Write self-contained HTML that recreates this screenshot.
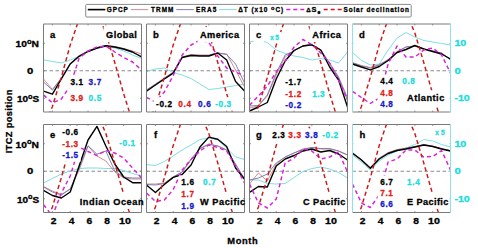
<!DOCTYPE html><html><head><meta charset="utf-8"><style>html,body{margin:0;padding:0;background:#fff;}svg{display:block;}text{font-family:"Liberation Sans",sans-serif;font-weight:bold;stroke-linejoin:round;}</style></head><body>
<svg width="478" height="248" viewBox="0 0 478 248">
<defs>
<clipPath id="cla"><rect x="43.50" y="24.00" width="98.00" height="88.00"/></clipPath>
<clipPath id="clb"><rect x="146.50" y="24.00" width="98.00" height="88.00"/></clipPath>
<clipPath id="clc"><rect x="249.50" y="24.00" width="98.00" height="88.00"/></clipPath>
<clipPath id="cld"><rect x="352.50" y="24.00" width="98.00" height="88.00"/></clipPath>
<clipPath id="cle"><rect x="43.50" y="124.50" width="98.00" height="88.00"/></clipPath>
<clipPath id="clf"><rect x="146.50" y="124.50" width="98.00" height="88.00"/></clipPath>
<clipPath id="clg"><rect x="249.50" y="124.50" width="98.00" height="88.00"/></clipPath>
<clipPath id="clh"><rect x="352.50" y="124.50" width="98.00" height="88.00"/></clipPath>
</defs>
<g clip-path="url(#cla)" fill="none" stroke-linejoin="round">
<line x1="43.50" y1="70.75" x2="141.50" y2="70.75" stroke="#8a8a8a" stroke-width="1" stroke-dasharray="3.5,2.5"/>
<polyline points="43.50,59.90 52.41,61.50 61.32,62.90 70.23,60.00 79.14,56.50 88.05,51.50 96.95,48.50 105.86,46.50 114.77,48.00 123.68,51.00 132.59,55.00 141.50,58.50" stroke="#7fdde3" stroke-width="1"/>
<polyline points="43.50,79.00 52.41,89.50 61.32,78.00 70.23,63.50 79.14,55.50 88.05,51.00 96.95,47.50 105.86,45.50 114.77,46.50 123.68,48.50 132.59,51.00 141.50,54.00" stroke="#d08080" stroke-width="0.9"/>
<polyline points="43.50,82.00 52.41,90.00 61.32,78.50 70.23,63.50 79.14,56.00 88.05,51.00 96.95,48.00 105.86,46.00 114.77,47.00 123.68,49.50 132.59,52.50 141.50,56.00" stroke="#7474b0" stroke-width="0.9"/>
<polyline points="43.50,91.20 52.41,94.20 61.32,79.00 70.23,64.00 79.14,56.30 88.05,51.50 96.95,48.00 105.86,45.80 114.77,47.00 123.68,49.00 132.59,52.00 141.50,57.00" stroke="#000" stroke-width="1.4"/>
<polyline points="43.50,94.90 52.41,103.00 61.32,99.00 70.23,86.00 79.14,58.00 88.05,51.00 96.95,47.00 105.86,46.00 114.77,52.00 123.68,57.50 132.59,62.00 141.50,70.00" stroke="#d91fd9" stroke-width="1.45" stroke-dasharray="4,3"/>
<polyline points="43.50,128.50 52.41,106.50 61.32,77.35 70.23,44.90 79.14,19.05 88.05,6.67 96.95,12.17 105.86,33.08 114.77,62.50 123.68,93.85 132.59,122.18 141.50,134.55" stroke="#d01818" stroke-width="1.45" stroke-dasharray="4.2,2.9"/>
<rect x="47.40" y="26.40" width="10.28" height="15.67" fill="#fff"/>
<rect x="103.60" y="27.06" width="35.70" height="15.18" fill="#fff"/>
<rect x="67.90" y="74.76" width="17.70" height="13.53" fill="#fff"/>
<rect x="86.10" y="74.76" width="17.70" height="13.53" fill="#fff"/>
<rect x="67.90" y="91.36" width="17.70" height="13.53" fill="#fff"/>
<rect x="86.10" y="91.36" width="17.70" height="13.53" fill="#fff"/>
</g>
<line x1="43.50" y1="24.00" x2="141.50" y2="24.00" stroke="#7a7a7a" stroke-width="1"/>
<line x1="43.50" y1="112.00" x2="141.50" y2="112.00" stroke="#7a7a7a" stroke-width="1"/>
<line x1="43.50" y1="24.00" x2="43.50" y2="112.00" stroke="#7a7a7a" stroke-width="1"/>
<line x1="141.50" y1="24.00" x2="141.50" y2="112.00" stroke="#7a7a7a" stroke-width="1"/>
<line x1="52.41" y1="24.00" x2="52.41" y2="25.50" stroke="#7a7a7a" stroke-width="0.8"/>
<line x1="52.41" y1="112.00" x2="52.41" y2="110.50" stroke="#7a7a7a" stroke-width="0.8"/>
<line x1="70.23" y1="24.00" x2="70.23" y2="25.50" stroke="#7a7a7a" stroke-width="0.8"/>
<line x1="70.23" y1="112.00" x2="70.23" y2="110.50" stroke="#7a7a7a" stroke-width="0.8"/>
<line x1="88.05" y1="24.00" x2="88.05" y2="25.50" stroke="#7a7a7a" stroke-width="0.8"/>
<line x1="88.05" y1="112.00" x2="88.05" y2="110.50" stroke="#7a7a7a" stroke-width="0.8"/>
<line x1="105.86" y1="24.00" x2="105.86" y2="25.50" stroke="#7a7a7a" stroke-width="0.8"/>
<line x1="105.86" y1="112.00" x2="105.86" y2="110.50" stroke="#7a7a7a" stroke-width="0.8"/>
<line x1="123.68" y1="24.00" x2="123.68" y2="25.50" stroke="#7a7a7a" stroke-width="0.8"/>
<line x1="123.68" y1="112.00" x2="123.68" y2="110.50" stroke="#7a7a7a" stroke-width="0.8"/>
<line x1="43.50" y1="98.25" x2="45.00" y2="98.25" stroke="#7a7a7a" stroke-width="0.8"/>
<line x1="141.50" y1="98.25" x2="140.00" y2="98.25" stroke="#7a7a7a" stroke-width="0.8"/>
<line x1="43.50" y1="70.75" x2="45.00" y2="70.75" stroke="#7a7a7a" stroke-width="0.8"/>
<line x1="141.50" y1="70.75" x2="140.00" y2="70.75" stroke="#7a7a7a" stroke-width="0.8"/>
<line x1="43.50" y1="43.25" x2="45.00" y2="43.25" stroke="#7a7a7a" stroke-width="0.8"/>
<line x1="141.50" y1="43.25" x2="140.00" y2="43.25" stroke="#7a7a7a" stroke-width="0.8"/>
<g clip-path="url(#clb)" fill="none" stroke-linejoin="round">
<line x1="146.50" y1="70.75" x2="244.50" y2="70.75" stroke="#8a8a8a" stroke-width="1" stroke-dasharray="3.5,2.5"/>
<polyline points="146.50,71.50 155.41,69.00 164.32,68.00 173.23,72.50 182.14,75.00 191.05,78.50 199.95,84.00 208.86,89.50 217.77,88.50 226.68,87.00 235.59,85.50 244.50,84.00" stroke="#7fdde3" stroke-width="1"/>
<polyline points="146.50,90.00 155.41,84.00 164.32,78.00 173.23,72.00 182.14,57.00 191.05,54.50 199.95,55.00 208.86,55.00 217.77,53.00 226.68,54.00 235.59,70.00 244.50,87.00" stroke="#d08080" stroke-width="0.9"/>
<polyline points="146.50,90.00 155.41,84.50 164.32,78.50 173.23,72.50 182.14,57.00 191.05,55.00 199.95,55.50 208.86,55.50 217.77,53.00 226.68,54.50 235.59,64.00 244.50,83.00" stroke="#7474b0" stroke-width="0.9"/>
<polyline points="146.50,91.20 155.41,85.00 164.32,79.00 173.23,73.10 182.14,57.50 191.05,55.50 199.95,56.00 208.86,56.00 217.77,53.00 226.68,60.00 235.59,81.50 244.50,91.00" stroke="#000" stroke-width="1.4"/>
<polyline points="146.50,97.30 155.41,102.00 164.32,92.00 173.23,75.50 182.14,55.00 191.05,45.00 199.95,40.00 208.86,42.50 217.77,56.00 226.68,68.00 235.59,72.00 244.50,76.00" stroke="#d91fd9" stroke-width="1.45" stroke-dasharray="4,3"/>
<polyline points="146.50,128.50 155.41,106.50 164.32,77.35 173.23,44.90 182.14,19.05 191.05,6.67 199.95,12.17 208.86,33.08 217.77,62.50 226.68,93.85 235.59,122.18 244.50,134.55" stroke="#d01818" stroke-width="1.45" stroke-dasharray="4.2,2.9"/>
<rect x="150.60" y="26.70" width="10.80" height="15.67" fill="#fff"/>
<rect x="197.50" y="27.06" width="44.00" height="15.18" fill="#fff"/>
<rect x="153.60" y="97.16" width="20.90" height="13.53" fill="#fff"/>
<rect x="175.80" y="97.16" width="17.70" height="13.53" fill="#fff"/>
<rect x="195.50" y="97.16" width="17.70" height="13.53" fill="#fff"/>
<rect x="212.70" y="97.16" width="20.90" height="13.53" fill="#fff"/>
</g>
<line x1="146.50" y1="24.00" x2="244.50" y2="24.00" stroke="#7a7a7a" stroke-width="1"/>
<line x1="146.50" y1="112.00" x2="244.50" y2="112.00" stroke="#7a7a7a" stroke-width="1"/>
<line x1="146.50" y1="24.00" x2="146.50" y2="112.00" stroke="#7a7a7a" stroke-width="1"/>
<line x1="244.50" y1="24.00" x2="244.50" y2="112.00" stroke="#7a7a7a" stroke-width="1"/>
<line x1="155.41" y1="24.00" x2="155.41" y2="25.50" stroke="#7a7a7a" stroke-width="0.8"/>
<line x1="155.41" y1="112.00" x2="155.41" y2="110.50" stroke="#7a7a7a" stroke-width="0.8"/>
<line x1="173.23" y1="24.00" x2="173.23" y2="25.50" stroke="#7a7a7a" stroke-width="0.8"/>
<line x1="173.23" y1="112.00" x2="173.23" y2="110.50" stroke="#7a7a7a" stroke-width="0.8"/>
<line x1="191.05" y1="24.00" x2="191.05" y2="25.50" stroke="#7a7a7a" stroke-width="0.8"/>
<line x1="191.05" y1="112.00" x2="191.05" y2="110.50" stroke="#7a7a7a" stroke-width="0.8"/>
<line x1="208.86" y1="24.00" x2="208.86" y2="25.50" stroke="#7a7a7a" stroke-width="0.8"/>
<line x1="208.86" y1="112.00" x2="208.86" y2="110.50" stroke="#7a7a7a" stroke-width="0.8"/>
<line x1="226.68" y1="24.00" x2="226.68" y2="25.50" stroke="#7a7a7a" stroke-width="0.8"/>
<line x1="226.68" y1="112.00" x2="226.68" y2="110.50" stroke="#7a7a7a" stroke-width="0.8"/>
<line x1="146.50" y1="98.25" x2="148.00" y2="98.25" stroke="#7a7a7a" stroke-width="0.8"/>
<line x1="244.50" y1="98.25" x2="243.00" y2="98.25" stroke="#7a7a7a" stroke-width="0.8"/>
<line x1="146.50" y1="70.75" x2="148.00" y2="70.75" stroke="#7a7a7a" stroke-width="0.8"/>
<line x1="244.50" y1="70.75" x2="243.00" y2="70.75" stroke="#7a7a7a" stroke-width="0.8"/>
<line x1="146.50" y1="43.25" x2="148.00" y2="43.25" stroke="#7a7a7a" stroke-width="0.8"/>
<line x1="244.50" y1="43.25" x2="243.00" y2="43.25" stroke="#7a7a7a" stroke-width="0.8"/>
<g clip-path="url(#clc)" fill="none" stroke-linejoin="round">
<line x1="249.50" y1="70.75" x2="347.50" y2="70.75" stroke="#8a8a8a" stroke-width="1" stroke-dasharray="3.5,2.5"/>
<polyline points="249.50,42.00 258.41,40.00 267.32,42.50 276.23,50.00 285.14,53.50 294.05,56.00 302.95,57.50 311.86,60.00 320.77,58.50 329.68,60.00 338.59,63.00 347.50,52.00" stroke="#7fdde3" stroke-width="1"/>
<polyline points="249.50,108.00 258.41,106.00 267.32,96.00 276.23,75.00 285.14,57.00 294.05,50.50 302.95,45.50 311.86,44.50 320.77,50.00 329.68,64.00 338.59,78.00 347.50,100.00" stroke="#d08080" stroke-width="0.9"/>
<polyline points="249.50,106.00 258.41,105.50 267.32,95.00 276.23,73.00 285.14,55.00 294.05,51.00 302.95,46.00 311.86,45.00 320.77,50.00 329.68,63.00 338.59,77.00 347.50,98.00" stroke="#7474b0" stroke-width="0.9"/>
<polyline points="249.50,111.00 258.41,107.00 267.32,102.50 276.23,79.00 285.14,61.00 294.05,50.50 302.95,46.00 311.86,44.80 320.77,50.00 329.68,67.00 338.59,80.00 347.50,107.00" stroke="#000" stroke-width="1.4"/>
<polyline points="249.50,105.30 258.41,96.00 267.32,86.00 276.23,72.00 285.14,61.00 294.05,47.00 302.95,39.50 311.86,44.50 320.77,53.00 329.68,63.00 338.59,80.00 347.50,100.00" stroke="#d91fd9" stroke-width="1.45" stroke-dasharray="4,3"/>
<polyline points="249.50,128.50 258.41,106.50 267.32,77.35 276.23,44.90 285.14,19.05 294.05,6.67 302.95,12.17 311.86,33.08 320.77,62.50 329.68,93.85 338.59,122.18 347.50,134.55" stroke="#d01818" stroke-width="1.45" stroke-dasharray="4.2,2.9"/>
<rect x="253.60" y="26.70" width="10.28" height="15.67" fill="#fff"/>
<rect x="309.80" y="26.86" width="33.60" height="15.18" fill="#fff"/>
<rect x="282.80" y="75.26" width="20.90" height="13.53" fill="#fff"/>
<rect x="282.80" y="87.06" width="20.90" height="13.53" fill="#fff"/>
<rect x="282.80" y="98.06" width="20.90" height="13.53" fill="#fff"/>
<rect x="309.70" y="87.06" width="17.40" height="13.53" fill="#fff"/>
<rect x="267.70" y="31.92" width="13.60" height="10.56" fill="#fff"/>
</g>
<line x1="249.50" y1="24.00" x2="347.50" y2="24.00" stroke="#7a7a7a" stroke-width="1"/>
<line x1="249.50" y1="112.00" x2="347.50" y2="112.00" stroke="#7a7a7a" stroke-width="1"/>
<line x1="249.50" y1="24.00" x2="249.50" y2="112.00" stroke="#7a7a7a" stroke-width="1"/>
<line x1="347.50" y1="24.00" x2="347.50" y2="112.00" stroke="#7a7a7a" stroke-width="1"/>
<line x1="258.41" y1="24.00" x2="258.41" y2="25.50" stroke="#7a7a7a" stroke-width="0.8"/>
<line x1="258.41" y1="112.00" x2="258.41" y2="110.50" stroke="#7a7a7a" stroke-width="0.8"/>
<line x1="276.23" y1="24.00" x2="276.23" y2="25.50" stroke="#7a7a7a" stroke-width="0.8"/>
<line x1="276.23" y1="112.00" x2="276.23" y2="110.50" stroke="#7a7a7a" stroke-width="0.8"/>
<line x1="294.05" y1="24.00" x2="294.05" y2="25.50" stroke="#7a7a7a" stroke-width="0.8"/>
<line x1="294.05" y1="112.00" x2="294.05" y2="110.50" stroke="#7a7a7a" stroke-width="0.8"/>
<line x1="311.86" y1="24.00" x2="311.86" y2="25.50" stroke="#7a7a7a" stroke-width="0.8"/>
<line x1="311.86" y1="112.00" x2="311.86" y2="110.50" stroke="#7a7a7a" stroke-width="0.8"/>
<line x1="329.68" y1="24.00" x2="329.68" y2="25.50" stroke="#7a7a7a" stroke-width="0.8"/>
<line x1="329.68" y1="112.00" x2="329.68" y2="110.50" stroke="#7a7a7a" stroke-width="0.8"/>
<line x1="249.50" y1="98.25" x2="251.00" y2="98.25" stroke="#7a7a7a" stroke-width="0.8"/>
<line x1="347.50" y1="98.25" x2="346.00" y2="98.25" stroke="#7a7a7a" stroke-width="0.8"/>
<line x1="249.50" y1="70.75" x2="251.00" y2="70.75" stroke="#7a7a7a" stroke-width="0.8"/>
<line x1="347.50" y1="70.75" x2="346.00" y2="70.75" stroke="#7a7a7a" stroke-width="0.8"/>
<line x1="249.50" y1="43.25" x2="251.00" y2="43.25" stroke="#7a7a7a" stroke-width="0.8"/>
<line x1="347.50" y1="43.25" x2="346.00" y2="43.25" stroke="#7a7a7a" stroke-width="0.8"/>
<g clip-path="url(#cld)" fill="none" stroke-linejoin="round">
<line x1="352.50" y1="70.75" x2="450.50" y2="70.75" stroke="#8a8a8a" stroke-width="1" stroke-dasharray="3.5,2.5"/>
<polyline points="352.50,52.40 361.41,60.50 370.32,65.00 379.23,64.00 388.14,50.00 397.05,38.00 405.95,32.50 414.86,37.00 423.77,40.50 432.68,42.00 441.59,43.50 450.50,45.00" stroke="#7fdde3" stroke-width="1"/>
<polyline points="352.50,62.50 361.41,65.50 370.32,67.50 379.23,64.50 388.14,59.50 397.05,51.50 405.95,47.00 414.86,46.00 423.77,49.00 432.68,51.00 441.59,53.00 450.50,59.50" stroke="#d08080" stroke-width="0.9"/>
<polyline points="352.50,63.00 361.41,66.00 370.32,68.00 379.23,65.00 388.14,60.00 397.05,52.00 405.95,47.00 414.86,46.00 423.77,49.00 432.68,51.00 441.59,53.00 450.50,60.00" stroke="#7474b0" stroke-width="0.9"/>
<polyline points="352.50,64.00 361.41,67.00 370.32,69.80 379.23,66.50 388.14,60.50 397.05,52.50 405.95,49.50 414.86,45.50 423.77,49.00 432.68,51.50 441.59,54.00 450.50,59.00" stroke="#000" stroke-width="1.4"/>
<polyline points="352.50,91.40 361.41,97.50 370.32,103.50 379.23,98.00 388.14,64.00 397.05,46.00 405.95,57.00 414.86,57.00 423.77,50.00 432.68,48.00 441.59,55.00 450.50,73.00" stroke="#d91fd9" stroke-width="1.45" stroke-dasharray="4,3"/>
<polyline points="352.50,128.50 361.41,106.50 370.32,77.35 379.23,44.90 388.14,19.05 397.05,6.67 405.95,12.17 414.86,33.08 423.77,62.50 432.68,93.85 441.59,122.18 450.50,134.55" stroke="#d01818" stroke-width="1.45" stroke-dasharray="4.2,2.9"/>
<rect x="356.60" y="26.70" width="10.80" height="15.67" fill="#fff"/>
<rect x="404.50" y="90.26" width="42.30" height="15.18" fill="#fff"/>
<rect x="377.70" y="74.56" width="17.70" height="13.53" fill="#fff"/>
<rect x="377.70" y="86.56" width="17.70" height="13.53" fill="#fff"/>
<rect x="377.70" y="97.36" width="17.70" height="13.53" fill="#fff"/>
<rect x="399.70" y="74.56" width="17.70" height="13.53" fill="#fff"/>
</g>
<line x1="352.50" y1="24.00" x2="450.50" y2="24.00" stroke="#7a7a7a" stroke-width="1"/>
<line x1="352.50" y1="112.00" x2="450.50" y2="112.00" stroke="#7a7a7a" stroke-width="1"/>
<line x1="352.50" y1="24.00" x2="352.50" y2="112.00" stroke="#8fe3e8" stroke-width="1"/>
<line x1="450.50" y1="24.00" x2="450.50" y2="112.00" stroke="#8fe3e8" stroke-width="1"/>
<line x1="361.41" y1="24.00" x2="361.41" y2="25.50" stroke="#7a7a7a" stroke-width="0.8"/>
<line x1="361.41" y1="112.00" x2="361.41" y2="110.50" stroke="#7a7a7a" stroke-width="0.8"/>
<line x1="379.23" y1="24.00" x2="379.23" y2="25.50" stroke="#7a7a7a" stroke-width="0.8"/>
<line x1="379.23" y1="112.00" x2="379.23" y2="110.50" stroke="#7a7a7a" stroke-width="0.8"/>
<line x1="397.05" y1="24.00" x2="397.05" y2="25.50" stroke="#7a7a7a" stroke-width="0.8"/>
<line x1="397.05" y1="112.00" x2="397.05" y2="110.50" stroke="#7a7a7a" stroke-width="0.8"/>
<line x1="414.86" y1="24.00" x2="414.86" y2="25.50" stroke="#7a7a7a" stroke-width="0.8"/>
<line x1="414.86" y1="112.00" x2="414.86" y2="110.50" stroke="#7a7a7a" stroke-width="0.8"/>
<line x1="432.68" y1="24.00" x2="432.68" y2="25.50" stroke="#7a7a7a" stroke-width="0.8"/>
<line x1="432.68" y1="112.00" x2="432.68" y2="110.50" stroke="#7a7a7a" stroke-width="0.8"/>
<line x1="352.50" y1="98.25" x2="354.00" y2="98.25" stroke="#8fe3e8" stroke-width="0.8"/>
<line x1="450.50" y1="98.25" x2="449.00" y2="98.25" stroke="#8fe3e8" stroke-width="0.8"/>
<line x1="352.50" y1="70.75" x2="354.00" y2="70.75" stroke="#8fe3e8" stroke-width="0.8"/>
<line x1="450.50" y1="70.75" x2="449.00" y2="70.75" stroke="#8fe3e8" stroke-width="0.8"/>
<line x1="352.50" y1="43.25" x2="354.00" y2="43.25" stroke="#8fe3e8" stroke-width="0.8"/>
<line x1="450.50" y1="43.25" x2="449.00" y2="43.25" stroke="#8fe3e8" stroke-width="0.8"/>
<g clip-path="url(#cle)" fill="none" stroke-linejoin="round">
<line x1="43.50" y1="171.25" x2="141.50" y2="171.25" stroke="#8a8a8a" stroke-width="1" stroke-dasharray="3.5,2.5"/>
<polyline points="43.50,183.00 52.41,178.50 61.32,174.00 70.23,171.00 79.14,168.50 88.05,168.00 96.95,168.00 105.86,168.50 114.77,168.50 123.68,170.50 132.59,173.50 141.50,176.00" stroke="#7fdde3" stroke-width="1"/>
<polyline points="43.50,186.50 52.41,191.00 61.32,194.50 70.23,189.00 79.14,170.00 88.05,146.00 96.95,156.00 105.86,161.00 114.77,172.00 123.68,178.00 132.59,179.00 141.50,179.00" stroke="#d08080" stroke-width="0.9"/>
<polyline points="43.50,187.00 52.41,192.00 61.32,195.00 70.23,189.00 79.14,168.00 88.05,145.80 96.95,154.20 105.86,151.00 114.77,171.00 123.68,177.00 132.59,178.00 141.50,178.00" stroke="#7474b0" stroke-width="0.9"/>
<polyline points="43.50,190.40 52.41,195.50 61.32,198.00 70.23,192.00 79.14,166.00 88.05,140.00 96.95,126.40 105.86,146.00 114.77,164.00 123.68,177.00 132.59,182.70 141.50,182.70" stroke="#000" stroke-width="1.4"/>
<polyline points="43.50,204.60 52.41,216.00 61.32,193.00 70.23,176.00 79.14,147.00 88.05,151.50 96.95,155.50 105.86,150.50 114.77,153.00 123.68,158.00 132.59,168.00 141.50,178.00" stroke="#d91fd9" stroke-width="1.45" stroke-dasharray="4,3"/>
<polyline points="43.50,229.00 52.41,207.00 61.32,177.85 70.23,145.40 79.14,119.55 88.05,107.17 96.95,112.67 105.86,133.57 114.77,163.00 123.68,194.35 132.59,222.68 141.50,235.05" stroke="#d01818" stroke-width="1.45" stroke-dasharray="4.2,2.9"/>
<rect x="47.60" y="126.90" width="10.28" height="15.67" fill="#fff"/>
<rect x="77.20" y="193.76" width="68.80" height="15.18" fill="#fff"/>
<rect x="59.70" y="125.46" width="20.90" height="13.53" fill="#fff"/>
<rect x="59.70" y="136.66" width="20.90" height="13.53" fill="#fff"/>
<rect x="59.70" y="148.16" width="20.90" height="13.53" fill="#fff"/>
<rect x="116.70" y="136.46" width="20.90" height="13.53" fill="#fff"/>
</g>
<line x1="43.50" y1="124.50" x2="141.50" y2="124.50" stroke="#7a7a7a" stroke-width="1"/>
<line x1="43.50" y1="212.50" x2="141.50" y2="212.50" stroke="#7a7a7a" stroke-width="1"/>
<line x1="43.50" y1="124.50" x2="43.50" y2="212.50" stroke="#7a7a7a" stroke-width="1"/>
<line x1="141.50" y1="124.50" x2="141.50" y2="212.50" stroke="#7a7a7a" stroke-width="1"/>
<line x1="52.41" y1="124.50" x2="52.41" y2="126.00" stroke="#7a7a7a" stroke-width="0.8"/>
<line x1="52.41" y1="212.50" x2="52.41" y2="211.00" stroke="#7a7a7a" stroke-width="0.8"/>
<line x1="70.23" y1="124.50" x2="70.23" y2="126.00" stroke="#7a7a7a" stroke-width="0.8"/>
<line x1="70.23" y1="212.50" x2="70.23" y2="211.00" stroke="#7a7a7a" stroke-width="0.8"/>
<line x1="88.05" y1="124.50" x2="88.05" y2="126.00" stroke="#7a7a7a" stroke-width="0.8"/>
<line x1="88.05" y1="212.50" x2="88.05" y2="211.00" stroke="#7a7a7a" stroke-width="0.8"/>
<line x1="105.86" y1="124.50" x2="105.86" y2="126.00" stroke="#7a7a7a" stroke-width="0.8"/>
<line x1="105.86" y1="212.50" x2="105.86" y2="211.00" stroke="#7a7a7a" stroke-width="0.8"/>
<line x1="123.68" y1="124.50" x2="123.68" y2="126.00" stroke="#7a7a7a" stroke-width="0.8"/>
<line x1="123.68" y1="212.50" x2="123.68" y2="211.00" stroke="#7a7a7a" stroke-width="0.8"/>
<line x1="43.50" y1="198.75" x2="45.00" y2="198.75" stroke="#7a7a7a" stroke-width="0.8"/>
<line x1="141.50" y1="198.75" x2="140.00" y2="198.75" stroke="#7a7a7a" stroke-width="0.8"/>
<line x1="43.50" y1="171.25" x2="45.00" y2="171.25" stroke="#7a7a7a" stroke-width="0.8"/>
<line x1="141.50" y1="171.25" x2="140.00" y2="171.25" stroke="#7a7a7a" stroke-width="0.8"/>
<line x1="43.50" y1="143.75" x2="45.00" y2="143.75" stroke="#7a7a7a" stroke-width="0.8"/>
<line x1="141.50" y1="143.75" x2="140.00" y2="143.75" stroke="#7a7a7a" stroke-width="0.8"/>
<g clip-path="url(#clf)" fill="none" stroke-linejoin="round">
<line x1="146.50" y1="171.25" x2="244.50" y2="171.25" stroke="#8a8a8a" stroke-width="1" stroke-dasharray="3.5,2.5"/>
<polyline points="146.50,164.60 155.41,165.50 164.32,161.50 173.23,156.00 182.14,150.00 191.05,145.00 199.95,139.50 208.86,138.00 217.77,140.00 226.68,148.00 235.59,157.00 244.50,159.50" stroke="#7fdde3" stroke-width="1"/>
<polyline points="146.50,184.00 155.41,184.00 164.32,183.00 173.23,177.00 182.14,172.00 191.05,160.00 199.95,149.00 208.86,144.50 217.77,146.00 226.68,150.00 235.59,165.00 244.50,180.00" stroke="#d08080" stroke-width="0.9"/>
<polyline points="146.50,184.50 155.41,185.00 164.32,183.50 173.23,177.00 182.14,172.00 191.05,159.00 199.95,148.50 208.86,144.00 217.77,146.00 226.68,150.00 235.59,164.00 244.50,179.00" stroke="#7474b0" stroke-width="0.9"/>
<polyline points="146.50,185.00 155.41,192.50 164.32,184.50 173.23,177.40 182.14,174.50 191.05,165.00 199.95,147.00 208.86,137.10 217.77,139.30 226.68,146.50 235.59,168.00 244.50,179.00" stroke="#000" stroke-width="1.4"/>
<polyline points="146.50,193.00 155.41,201.50 164.32,200.00 173.23,189.50 182.14,170.00 191.05,159.50 199.95,151.00 208.86,145.00 217.77,147.50 226.68,151.00 235.59,166.00 244.50,183.00" stroke="#d91fd9" stroke-width="1.45" stroke-dasharray="4,3"/>
<polyline points="146.50,229.00 155.41,207.00 164.32,177.85 173.23,145.40 182.14,119.55 191.05,107.17 199.95,112.67 208.86,133.57 217.77,163.00 226.68,194.35 235.59,222.68 244.50,235.05" stroke="#d01818" stroke-width="1.45" stroke-dasharray="4.2,2.9"/>
<rect x="151.60" y="126.90" width="8.16" height="15.67" fill="#fff"/>
<rect x="197.50" y="193.76" width="50.20" height="15.18" fill="#fff"/>
<rect x="178.80" y="175.46" width="17.70" height="13.53" fill="#fff"/>
<rect x="178.80" y="187.56" width="17.70" height="13.53" fill="#fff"/>
<rect x="178.80" y="198.66" width="17.70" height="13.53" fill="#fff"/>
<rect x="200.60" y="175.46" width="17.70" height="13.53" fill="#fff"/>
</g>
<line x1="146.50" y1="124.50" x2="244.50" y2="124.50" stroke="#7a7a7a" stroke-width="1"/>
<line x1="146.50" y1="212.50" x2="244.50" y2="212.50" stroke="#7a7a7a" stroke-width="1"/>
<line x1="146.50" y1="124.50" x2="146.50" y2="212.50" stroke="#7a7a7a" stroke-width="1"/>
<line x1="244.50" y1="124.50" x2="244.50" y2="212.50" stroke="#7a7a7a" stroke-width="1"/>
<line x1="155.41" y1="124.50" x2="155.41" y2="126.00" stroke="#7a7a7a" stroke-width="0.8"/>
<line x1="155.41" y1="212.50" x2="155.41" y2="211.00" stroke="#7a7a7a" stroke-width="0.8"/>
<line x1="173.23" y1="124.50" x2="173.23" y2="126.00" stroke="#7a7a7a" stroke-width="0.8"/>
<line x1="173.23" y1="212.50" x2="173.23" y2="211.00" stroke="#7a7a7a" stroke-width="0.8"/>
<line x1="191.05" y1="124.50" x2="191.05" y2="126.00" stroke="#7a7a7a" stroke-width="0.8"/>
<line x1="191.05" y1="212.50" x2="191.05" y2="211.00" stroke="#7a7a7a" stroke-width="0.8"/>
<line x1="208.86" y1="124.50" x2="208.86" y2="126.00" stroke="#7a7a7a" stroke-width="0.8"/>
<line x1="208.86" y1="212.50" x2="208.86" y2="211.00" stroke="#7a7a7a" stroke-width="0.8"/>
<line x1="226.68" y1="124.50" x2="226.68" y2="126.00" stroke="#7a7a7a" stroke-width="0.8"/>
<line x1="226.68" y1="212.50" x2="226.68" y2="211.00" stroke="#7a7a7a" stroke-width="0.8"/>
<line x1="146.50" y1="198.75" x2="148.00" y2="198.75" stroke="#7a7a7a" stroke-width="0.8"/>
<line x1="244.50" y1="198.75" x2="243.00" y2="198.75" stroke="#7a7a7a" stroke-width="0.8"/>
<line x1="146.50" y1="171.25" x2="148.00" y2="171.25" stroke="#7a7a7a" stroke-width="0.8"/>
<line x1="244.50" y1="171.25" x2="243.00" y2="171.25" stroke="#7a7a7a" stroke-width="0.8"/>
<line x1="146.50" y1="143.75" x2="148.00" y2="143.75" stroke="#7a7a7a" stroke-width="0.8"/>
<line x1="244.50" y1="143.75" x2="243.00" y2="143.75" stroke="#7a7a7a" stroke-width="0.8"/>
<g clip-path="url(#clg)" fill="none" stroke-linejoin="round">
<line x1="249.50" y1="171.25" x2="347.50" y2="171.25" stroke="#8a8a8a" stroke-width="1" stroke-dasharray="3.5,2.5"/>
<polyline points="249.50,180.00 258.41,180.00 267.32,183.50 276.23,184.00 285.14,183.50 294.05,177.50 302.95,171.50 311.86,168.50 320.77,167.00 329.68,169.00 338.59,172.50 347.50,178.00" stroke="#7fdde3" stroke-width="1"/>
<polyline points="249.50,184.00 258.41,173.00 267.32,181.00 276.23,164.00 285.14,157.00 294.05,153.00 302.95,149.00 311.86,147.50 320.77,149.00 329.68,149.00 338.59,151.00 347.50,155.00" stroke="#d08080" stroke-width="0.9"/>
<polyline points="249.50,180.00 258.41,178.00 267.32,174.00 276.23,163.00 285.14,157.00 294.05,153.00 302.95,149.50 311.86,147.50 320.77,148.50 329.68,148.50 338.59,151.00 347.50,155.00" stroke="#7474b0" stroke-width="0.9"/>
<polyline points="249.50,192.40 258.41,186.50 267.32,187.00 276.23,166.00 285.14,159.00 294.05,155.50 302.95,151.00 311.86,149.00 320.77,152.00 329.68,150.50 338.59,154.00 347.50,160.00" stroke="#000" stroke-width="1.4"/>
<polyline points="249.50,184.00 258.41,203.00 267.32,208.00 276.23,199.00 285.14,163.00 294.05,158.00 302.95,149.00 311.86,151.00 320.77,159.00 329.68,157.00 338.59,152.00 347.50,172.00" stroke="#d91fd9" stroke-width="1.45" stroke-dasharray="4,3"/>
<polyline points="249.50,229.00 258.41,207.00 267.32,177.85 276.23,145.40 285.14,119.55 294.05,107.17 302.95,112.67 311.86,133.57 320.77,163.00 329.68,194.35 338.59,222.68 347.50,235.05" stroke="#d01818" stroke-width="1.45" stroke-dasharray="4.2,2.9"/>
<rect x="253.60" y="126.90" width="10.80" height="15.67" fill="#fff"/>
<rect x="300.50" y="193.76" width="47.40" height="15.18" fill="#fff"/>
<rect x="269.70" y="128.36" width="17.70" height="13.53" fill="#fff"/>
<rect x="285.80" y="128.36" width="17.70" height="13.53" fill="#fff"/>
<rect x="302.60" y="128.36" width="17.70" height="13.53" fill="#fff"/>
<rect x="319.70" y="128.36" width="20.90" height="13.53" fill="#fff"/>
</g>
<line x1="249.50" y1="124.50" x2="347.50" y2="124.50" stroke="#7a7a7a" stroke-width="1"/>
<line x1="249.50" y1="212.50" x2="347.50" y2="212.50" stroke="#7a7a7a" stroke-width="1"/>
<line x1="249.50" y1="124.50" x2="249.50" y2="212.50" stroke="#7a7a7a" stroke-width="1"/>
<line x1="347.50" y1="124.50" x2="347.50" y2="212.50" stroke="#7a7a7a" stroke-width="1"/>
<line x1="258.41" y1="124.50" x2="258.41" y2="126.00" stroke="#7a7a7a" stroke-width="0.8"/>
<line x1="258.41" y1="212.50" x2="258.41" y2="211.00" stroke="#7a7a7a" stroke-width="0.8"/>
<line x1="276.23" y1="124.50" x2="276.23" y2="126.00" stroke="#7a7a7a" stroke-width="0.8"/>
<line x1="276.23" y1="212.50" x2="276.23" y2="211.00" stroke="#7a7a7a" stroke-width="0.8"/>
<line x1="294.05" y1="124.50" x2="294.05" y2="126.00" stroke="#7a7a7a" stroke-width="0.8"/>
<line x1="294.05" y1="212.50" x2="294.05" y2="211.00" stroke="#7a7a7a" stroke-width="0.8"/>
<line x1="311.86" y1="124.50" x2="311.86" y2="126.00" stroke="#7a7a7a" stroke-width="0.8"/>
<line x1="311.86" y1="212.50" x2="311.86" y2="211.00" stroke="#7a7a7a" stroke-width="0.8"/>
<line x1="329.68" y1="124.50" x2="329.68" y2="126.00" stroke="#7a7a7a" stroke-width="0.8"/>
<line x1="329.68" y1="212.50" x2="329.68" y2="211.00" stroke="#7a7a7a" stroke-width="0.8"/>
<line x1="249.50" y1="198.75" x2="251.00" y2="198.75" stroke="#7a7a7a" stroke-width="0.8"/>
<line x1="347.50" y1="198.75" x2="346.00" y2="198.75" stroke="#7a7a7a" stroke-width="0.8"/>
<line x1="249.50" y1="171.25" x2="251.00" y2="171.25" stroke="#7a7a7a" stroke-width="0.8"/>
<line x1="347.50" y1="171.25" x2="346.00" y2="171.25" stroke="#7a7a7a" stroke-width="0.8"/>
<line x1="249.50" y1="143.75" x2="251.00" y2="143.75" stroke="#7a7a7a" stroke-width="0.8"/>
<line x1="347.50" y1="143.75" x2="346.00" y2="143.75" stroke="#7a7a7a" stroke-width="0.8"/>
<g clip-path="url(#clh)" fill="none" stroke-linejoin="round">
<line x1="352.50" y1="171.25" x2="450.50" y2="171.25" stroke="#8a8a8a" stroke-width="1" stroke-dasharray="3.5,2.5"/>
<polyline points="352.50,155.00 361.41,162.00 370.32,170.00 379.23,161.00 388.14,155.00 397.05,151.00 405.95,148.00 414.86,144.50 423.77,139.50 432.68,141.00 441.59,144.50 450.50,147.00" stroke="#7fdde3" stroke-width="1"/>
<polyline points="352.50,152.50 361.41,159.50 370.32,167.50 379.23,158.00 388.14,152.50 397.05,149.50 405.95,148.00 414.86,146.50 423.77,144.50 432.68,146.00 441.59,148.50 450.50,150.50" stroke="#d08080" stroke-width="0.9"/>
<polyline points="352.50,153.00 361.41,159.80 370.32,168.00 379.23,158.50 388.14,153.00 397.05,150.00 405.95,148.50 414.86,146.80 423.77,144.80 432.68,146.20 441.59,148.80 450.50,150.80" stroke="#7474b0" stroke-width="0.9"/>
<polyline points="352.50,153.30 361.41,160.00 370.32,168.30 379.23,159.00 388.14,153.50 397.05,150.50 405.95,149.00 414.86,147.00 423.77,145.00 432.68,146.50 441.59,149.00 450.50,151.00" stroke="#000" stroke-width="1.4"/>
<polyline points="352.50,184.00 361.41,203.00 370.32,207.50 379.23,195.00 388.14,162.00 397.05,159.00 405.95,150.00 414.86,150.00 423.77,157.00 432.68,156.50 441.59,150.50 450.50,170.00" stroke="#d91fd9" stroke-width="1.45" stroke-dasharray="4,3"/>
<polyline points="352.50,229.00 361.41,207.00 370.32,177.85 379.23,145.40 388.14,119.55 397.05,107.17 405.95,112.67 414.86,133.57 423.77,163.00 432.68,194.35 441.59,222.68 450.50,235.05" stroke="#d01818" stroke-width="1.45" stroke-dasharray="4.2,2.9"/>
<rect x="357.00" y="126.90" width="10.80" height="15.67" fill="#fff"/>
<rect x="404.50" y="193.76" width="46.40" height="15.18" fill="#fff"/>
<rect x="377.70" y="175.46" width="17.70" height="13.53" fill="#fff"/>
<rect x="377.70" y="186.56" width="17.70" height="13.53" fill="#fff"/>
<rect x="377.70" y="197.56" width="17.70" height="13.53" fill="#fff"/>
<rect x="404.50" y="175.46" width="17.70" height="13.53" fill="#fff"/>
<rect x="432.80" y="127.72" width="14.20" height="10.56" fill="#fff"/>
</g>
<line x1="352.50" y1="124.50" x2="450.50" y2="124.50" stroke="#7a7a7a" stroke-width="1"/>
<line x1="352.50" y1="212.50" x2="450.50" y2="212.50" stroke="#7a7a7a" stroke-width="1"/>
<line x1="352.50" y1="124.50" x2="352.50" y2="212.50" stroke="#8fe3e8" stroke-width="1"/>
<line x1="450.50" y1="124.50" x2="450.50" y2="212.50" stroke="#8fe3e8" stroke-width="1"/>
<line x1="361.41" y1="124.50" x2="361.41" y2="126.00" stroke="#7a7a7a" stroke-width="0.8"/>
<line x1="361.41" y1="212.50" x2="361.41" y2="211.00" stroke="#7a7a7a" stroke-width="0.8"/>
<line x1="379.23" y1="124.50" x2="379.23" y2="126.00" stroke="#7a7a7a" stroke-width="0.8"/>
<line x1="379.23" y1="212.50" x2="379.23" y2="211.00" stroke="#7a7a7a" stroke-width="0.8"/>
<line x1="397.05" y1="124.50" x2="397.05" y2="126.00" stroke="#7a7a7a" stroke-width="0.8"/>
<line x1="397.05" y1="212.50" x2="397.05" y2="211.00" stroke="#7a7a7a" stroke-width="0.8"/>
<line x1="414.86" y1="124.50" x2="414.86" y2="126.00" stroke="#7a7a7a" stroke-width="0.8"/>
<line x1="414.86" y1="212.50" x2="414.86" y2="211.00" stroke="#7a7a7a" stroke-width="0.8"/>
<line x1="432.68" y1="124.50" x2="432.68" y2="126.00" stroke="#7a7a7a" stroke-width="0.8"/>
<line x1="432.68" y1="212.50" x2="432.68" y2="211.00" stroke="#7a7a7a" stroke-width="0.8"/>
<line x1="352.50" y1="198.75" x2="354.00" y2="198.75" stroke="#8fe3e8" stroke-width="0.8"/>
<line x1="450.50" y1="198.75" x2="449.00" y2="198.75" stroke="#8fe3e8" stroke-width="0.8"/>
<line x1="352.50" y1="171.25" x2="354.00" y2="171.25" stroke="#8fe3e8" stroke-width="0.8"/>
<line x1="450.50" y1="171.25" x2="449.00" y2="171.25" stroke="#8fe3e8" stroke-width="0.8"/>
<line x1="352.50" y1="143.75" x2="354.00" y2="143.75" stroke="#8fe3e8" stroke-width="0.8"/>
<line x1="450.50" y1="143.75" x2="449.00" y2="143.75" stroke="#8fe3e8" stroke-width="0.8"/>
<text x="49.90" y="37.80" font-size="9.50" fill="#000" stroke="#000" stroke-width="0.30" text-anchor="start">a</text>
<text x="153.10" y="38.10" font-size="9.50" fill="#000" stroke="#000" stroke-width="0.30" text-anchor="start">b</text>
<text x="256.10" y="38.10" font-size="9.50" fill="#000" stroke="#000" stroke-width="0.30" text-anchor="start">c</text>
<text x="359.10" y="38.10" font-size="9.50" fill="#000" stroke="#000" stroke-width="0.30" text-anchor="start">d</text>
<text x="50.10" y="138.30" font-size="9.50" fill="#000" stroke="#000" stroke-width="0.30" text-anchor="start">e</text>
<text x="154.10" y="138.30" font-size="9.50" fill="#000" stroke="#000" stroke-width="0.30" text-anchor="start">f</text>
<text x="256.10" y="138.30" font-size="9.50" fill="#000" stroke="#000" stroke-width="0.30" text-anchor="start">g</text>
<text x="359.50" y="138.30" font-size="9.50" fill="#000" stroke="#000" stroke-width="0.30" text-anchor="start">h</text>
<text x="136.80" y="38.10" font-size="9.20" fill="#000" stroke="#000" stroke-width="0.30" text-anchor="end" textLength="30.70" lengthAdjust="spacing">Global</text>
<text x="239.00" y="38.10" font-size="9.20" fill="#000" stroke="#000" stroke-width="0.30" text-anchor="end" textLength="39.00" lengthAdjust="spacing">America</text>
<text x="340.90" y="37.90" font-size="9.20" fill="#000" stroke="#000" stroke-width="0.30" text-anchor="end" textLength="28.60" lengthAdjust="spacing">Africa</text>
<text x="444.30" y="101.30" font-size="9.20" fill="#000" stroke="#000" stroke-width="0.30" text-anchor="end" textLength="37.30" lengthAdjust="spacing">Atlantic</text>
<text x="143.50" y="204.80" font-size="9.20" fill="#000" stroke="#000" stroke-width="0.30" text-anchor="end" textLength="63.80" lengthAdjust="spacing">Indian Ocean</text>
<text x="245.20" y="204.80" font-size="9.20" fill="#000" stroke="#000" stroke-width="0.30" text-anchor="end" textLength="45.20" lengthAdjust="spacing">W Pacific</text>
<text x="345.40" y="204.80" font-size="9.20" fill="#000" stroke="#000" stroke-width="0.30" text-anchor="end" textLength="42.40" lengthAdjust="spacing">C Pacific</text>
<text x="448.40" y="204.80" font-size="9.20" fill="#000" stroke="#000" stroke-width="0.30" text-anchor="end" textLength="41.40" lengthAdjust="spacing">E Pacific</text>
<text x="70.40" y="84.60" font-size="8.20" fill="#000" stroke="#000" stroke-width="0.30" text-anchor="start" textLength="12.70" lengthAdjust="spacing">3.1</text>
<text x="88.60" y="84.60" font-size="8.20" fill="#1818c8" stroke="#1818c8" stroke-width="0.30" text-anchor="start" textLength="12.70" lengthAdjust="spacing">3.7</text>
<text x="70.40" y="101.20" font-size="8.20" fill="#e02020" stroke="#e02020" stroke-width="0.30" text-anchor="start" textLength="12.70" lengthAdjust="spacing">3.9</text>
<text x="88.60" y="101.20" font-size="8.20" fill="#20dcdc" stroke="#20dcdc" stroke-width="0.30" text-anchor="start" textLength="12.70" lengthAdjust="spacing">0.5</text>
<text x="156.10" y="107.00" font-size="8.20" fill="#000" stroke="#000" stroke-width="0.30" text-anchor="start" textLength="15.90" lengthAdjust="spacing">-0.2</text>
<text x="178.30" y="107.00" font-size="8.20" fill="#e02020" stroke="#e02020" stroke-width="0.30" text-anchor="start" textLength="12.70" lengthAdjust="spacing">0.4</text>
<text x="198.00" y="107.00" font-size="8.20" fill="#1818c8" stroke="#1818c8" stroke-width="0.30" text-anchor="start" textLength="12.70" lengthAdjust="spacing">0.6</text>
<text x="215.20" y="107.00" font-size="8.20" fill="#20dcdc" stroke="#20dcdc" stroke-width="0.30" text-anchor="start" textLength="15.90" lengthAdjust="spacing">-0.3</text>
<text x="285.30" y="85.10" font-size="8.20" fill="#000" stroke="#000" stroke-width="0.30" text-anchor="start" textLength="15.90" lengthAdjust="spacing">-1.7</text>
<text x="285.30" y="96.90" font-size="8.20" fill="#e02020" stroke="#e02020" stroke-width="0.30" text-anchor="start" textLength="15.90" lengthAdjust="spacing">-1.2</text>
<text x="285.30" y="107.90" font-size="8.20" fill="#1818c8" stroke="#1818c8" stroke-width="0.30" text-anchor="start" textLength="15.90" lengthAdjust="spacing">-0.2</text>
<text x="312.20" y="96.90" font-size="8.20" fill="#20dcdc" stroke="#20dcdc" stroke-width="0.30" text-anchor="start" textLength="12.40" lengthAdjust="spacing">1.3</text>
<text x="380.20" y="84.40" font-size="8.20" fill="#000" stroke="#000" stroke-width="0.30" text-anchor="start" textLength="12.70" lengthAdjust="spacing">4.4</text>
<text x="380.20" y="96.40" font-size="8.20" fill="#e02020" stroke="#e02020" stroke-width="0.30" text-anchor="start" textLength="12.70" lengthAdjust="spacing">4.8</text>
<text x="380.20" y="107.20" font-size="8.20" fill="#1818c8" stroke="#1818c8" stroke-width="0.30" text-anchor="start" textLength="12.70" lengthAdjust="spacing">4.8</text>
<text x="402.20" y="84.40" font-size="8.20" fill="#20dcdc" stroke="#20dcdc" stroke-width="0.30" text-anchor="start" textLength="12.70" lengthAdjust="spacing">0.8</text>
<text x="62.20" y="135.30" font-size="8.20" fill="#000" stroke="#000" stroke-width="0.30" text-anchor="start" textLength="15.90" lengthAdjust="spacing">-0.6</text>
<text x="62.20" y="146.50" font-size="8.20" fill="#e02020" stroke="#e02020" stroke-width="0.30" text-anchor="start" textLength="15.90" lengthAdjust="spacing">-1.3</text>
<text x="62.20" y="158.00" font-size="8.20" fill="#1818c8" stroke="#1818c8" stroke-width="0.30" text-anchor="start" textLength="15.90" lengthAdjust="spacing">-1.5</text>
<text x="119.20" y="146.30" font-size="8.20" fill="#20dcdc" stroke="#20dcdc" stroke-width="0.30" text-anchor="start" textLength="15.90" lengthAdjust="spacing">-0.1</text>
<text x="181.30" y="185.30" font-size="8.20" fill="#000" stroke="#000" stroke-width="0.30" text-anchor="start" textLength="12.70" lengthAdjust="spacing">1.6</text>
<text x="181.30" y="197.40" font-size="8.20" fill="#e02020" stroke="#e02020" stroke-width="0.30" text-anchor="start" textLength="12.70" lengthAdjust="spacing">1.7</text>
<text x="181.30" y="208.50" font-size="8.20" fill="#1818c8" stroke="#1818c8" stroke-width="0.30" text-anchor="start" textLength="12.70" lengthAdjust="spacing">1.9</text>
<text x="203.10" y="185.30" font-size="8.20" fill="#20dcdc" stroke="#20dcdc" stroke-width="0.30" text-anchor="start" textLength="12.70" lengthAdjust="spacing">0.7</text>
<text x="272.20" y="138.20" font-size="8.20" fill="#000" stroke="#000" stroke-width="0.30" text-anchor="start" textLength="12.70" lengthAdjust="spacing">2.3</text>
<text x="288.30" y="138.20" font-size="8.20" fill="#e02020" stroke="#e02020" stroke-width="0.30" text-anchor="start" textLength="12.70" lengthAdjust="spacing">3.3</text>
<text x="305.10" y="138.20" font-size="8.20" fill="#1818c8" stroke="#1818c8" stroke-width="0.30" text-anchor="start" textLength="12.70" lengthAdjust="spacing">3.8</text>
<text x="322.20" y="138.20" font-size="8.20" fill="#20dcdc" stroke="#20dcdc" stroke-width="0.30" text-anchor="start" textLength="15.90" lengthAdjust="spacing">-0.2</text>
<text x="380.20" y="185.30" font-size="8.20" fill="#000" stroke="#000" stroke-width="0.30" text-anchor="start" textLength="12.70" lengthAdjust="spacing">6.7</text>
<text x="380.20" y="196.40" font-size="8.20" fill="#e02020" stroke="#e02020" stroke-width="0.30" text-anchor="start" textLength="12.70" lengthAdjust="spacing">7.1</text>
<text x="380.20" y="207.40" font-size="8.20" fill="#1818c8" stroke="#1818c8" stroke-width="0.30" text-anchor="start" textLength="12.70" lengthAdjust="spacing">6.6</text>
<text x="407.00" y="185.30" font-size="8.20" fill="#20dcdc" stroke="#20dcdc" stroke-width="0.30" text-anchor="start" textLength="12.70" lengthAdjust="spacing">1.4</text>
<text x="270.20" y="39.60" font-size="6.40" fill="#20dcdc" stroke="#20dcdc" stroke-width="0.30" text-anchor="start" textLength="8.60" lengthAdjust="spacing">x5</text>
<text x="435.30" y="135.40" font-size="6.40" fill="#20dcdc" stroke="#20dcdc" stroke-width="0.30" text-anchor="start" textLength="9.20" lengthAdjust="spacing">x5</text>
<text x="15.60" y="47.15" font-size="8.80" fill="#000" stroke="#000" stroke-width="0.30" text-anchor="start" textLength="23.40" lengthAdjust="spacingAndGlyphs">10<tspan font-size="6.5" dy="-3.4">o</tspan><tspan dy="3.4">N</tspan></text>
<text x="27.00" y="73.75" font-size="8.80" fill="#000" stroke="#000" stroke-width="0.30" text-anchor="start" textLength="6.30" lengthAdjust="spacingAndGlyphs">0</text>
<text x="16.90" y="102.15" font-size="8.80" fill="#000" stroke="#000" stroke-width="0.30" text-anchor="start" textLength="22.30" lengthAdjust="spacingAndGlyphs">10<tspan font-size="6.5" dy="-3.4">o</tspan><tspan dy="3.4">S</tspan></text>
<text x="454.40" y="46.45" font-size="8.80" fill="#20dcdc" stroke="#20dcdc" stroke-width="0.30" text-anchor="start" textLength="11.90" lengthAdjust="spacingAndGlyphs">10</text>
<text x="454.40" y="73.95" font-size="8.80" fill="#20dcdc" stroke="#20dcdc" stroke-width="0.30" text-anchor="start" textLength="6.30" lengthAdjust="spacingAndGlyphs">0</text>
<text x="454.40" y="101.45" font-size="8.80" fill="#20dcdc" stroke="#20dcdc" stroke-width="0.30" text-anchor="start" textLength="15.40" lengthAdjust="spacingAndGlyphs">-10</text>
<text x="15.60" y="147.65" font-size="8.80" fill="#000" stroke="#000" stroke-width="0.30" text-anchor="start" textLength="23.40" lengthAdjust="spacingAndGlyphs">10<tspan font-size="6.5" dy="-3.4">o</tspan><tspan dy="3.4">N</tspan></text>
<text x="27.00" y="174.25" font-size="8.80" fill="#000" stroke="#000" stroke-width="0.30" text-anchor="start" textLength="6.30" lengthAdjust="spacingAndGlyphs">0</text>
<text x="16.90" y="202.65" font-size="8.80" fill="#000" stroke="#000" stroke-width="0.30" text-anchor="start" textLength="22.30" lengthAdjust="spacingAndGlyphs">10<tspan font-size="6.5" dy="-3.4">o</tspan><tspan dy="3.4">S</tspan></text>
<text x="454.40" y="146.95" font-size="8.80" fill="#20dcdc" stroke="#20dcdc" stroke-width="0.30" text-anchor="start" textLength="11.90" lengthAdjust="spacingAndGlyphs">10</text>
<text x="454.40" y="174.45" font-size="8.80" fill="#20dcdc" stroke="#20dcdc" stroke-width="0.30" text-anchor="start" textLength="6.30" lengthAdjust="spacingAndGlyphs">0</text>
<text x="454.40" y="201.95" font-size="8.80" fill="#20dcdc" stroke="#20dcdc" stroke-width="0.30" text-anchor="start" textLength="15.40" lengthAdjust="spacingAndGlyphs">-10</text>
<text x="50.86" y="224.30" font-size="8.80" fill="#000" stroke="#000" stroke-width="0.30" text-anchor="start" textLength="5.70" lengthAdjust="spacingAndGlyphs">2</text>
<text x="68.68" y="224.30" font-size="8.80" fill="#000" stroke="#000" stroke-width="0.30" text-anchor="start" textLength="5.70" lengthAdjust="spacingAndGlyphs">4</text>
<text x="86.50" y="224.30" font-size="8.80" fill="#000" stroke="#000" stroke-width="0.30" text-anchor="start" textLength="5.70" lengthAdjust="spacingAndGlyphs">6</text>
<text x="104.31" y="224.30" font-size="8.80" fill="#000" stroke="#000" stroke-width="0.30" text-anchor="start" textLength="5.70" lengthAdjust="spacingAndGlyphs">8</text>
<text x="119.03" y="224.30" font-size="8.80" fill="#000" stroke="#000" stroke-width="0.30" text-anchor="start" textLength="11.90" lengthAdjust="spacingAndGlyphs">10</text>
<text x="153.86" y="224.30" font-size="8.80" fill="#000" stroke="#000" stroke-width="0.30" text-anchor="start" textLength="5.70" lengthAdjust="spacingAndGlyphs">2</text>
<text x="171.68" y="224.30" font-size="8.80" fill="#000" stroke="#000" stroke-width="0.30" text-anchor="start" textLength="5.70" lengthAdjust="spacingAndGlyphs">4</text>
<text x="189.50" y="224.30" font-size="8.80" fill="#000" stroke="#000" stroke-width="0.30" text-anchor="start" textLength="5.70" lengthAdjust="spacingAndGlyphs">6</text>
<text x="207.31" y="224.30" font-size="8.80" fill="#000" stroke="#000" stroke-width="0.30" text-anchor="start" textLength="5.70" lengthAdjust="spacingAndGlyphs">8</text>
<text x="222.03" y="224.30" font-size="8.80" fill="#000" stroke="#000" stroke-width="0.30" text-anchor="start" textLength="11.90" lengthAdjust="spacingAndGlyphs">10</text>
<text x="256.86" y="224.30" font-size="8.80" fill="#000" stroke="#000" stroke-width="0.30" text-anchor="start" textLength="5.70" lengthAdjust="spacingAndGlyphs">2</text>
<text x="274.68" y="224.30" font-size="8.80" fill="#000" stroke="#000" stroke-width="0.30" text-anchor="start" textLength="5.70" lengthAdjust="spacingAndGlyphs">4</text>
<text x="292.50" y="224.30" font-size="8.80" fill="#000" stroke="#000" stroke-width="0.30" text-anchor="start" textLength="5.70" lengthAdjust="spacingAndGlyphs">6</text>
<text x="310.31" y="224.30" font-size="8.80" fill="#000" stroke="#000" stroke-width="0.30" text-anchor="start" textLength="5.70" lengthAdjust="spacingAndGlyphs">8</text>
<text x="325.03" y="224.30" font-size="8.80" fill="#000" stroke="#000" stroke-width="0.30" text-anchor="start" textLength="11.90" lengthAdjust="spacingAndGlyphs">10</text>
<text x="359.86" y="224.30" font-size="8.80" fill="#000" stroke="#000" stroke-width="0.30" text-anchor="start" textLength="5.70" lengthAdjust="spacingAndGlyphs">2</text>
<text x="377.68" y="224.30" font-size="8.80" fill="#000" stroke="#000" stroke-width="0.30" text-anchor="start" textLength="5.70" lengthAdjust="spacingAndGlyphs">4</text>
<text x="395.50" y="224.30" font-size="8.80" fill="#000" stroke="#000" stroke-width="0.30" text-anchor="start" textLength="5.70" lengthAdjust="spacingAndGlyphs">6</text>
<text x="413.31" y="224.30" font-size="8.80" fill="#000" stroke="#000" stroke-width="0.30" text-anchor="start" textLength="5.70" lengthAdjust="spacingAndGlyphs">8</text>
<text x="428.03" y="224.30" font-size="8.80" fill="#000" stroke="#000" stroke-width="0.30" text-anchor="start" textLength="11.90" lengthAdjust="spacingAndGlyphs">10</text>
<text x="242.50" y="244.00" font-size="9.30" fill="#000" stroke="#000" stroke-width="0.30" text-anchor="middle" textLength="30.40" lengthAdjust="spacing">Month</text>
<text x="11.80" y="121.50" font-size="9.30" fill="#000" stroke="#000" stroke-width="0.30" text-anchor="middle" textLength="63.70" lengthAdjust="spacing" transform="rotate(-90 11.8 121.5)">ITCZ position</text>
<rect x="85.7" y="4.4" width="325.5" height="12.6" rx="1" fill="#fff" stroke="#8a8a8a" stroke-width="1"/>
<line x1="87.8" y1="9.6" x2="105.3" y2="9.6" stroke="#000" stroke-width="1.6"/>
<text x="106.80" y="12.00" font-size="6.40" fill="#000" stroke="#000" stroke-width="0.30" text-anchor="start" textLength="21.00" lengthAdjust="spacing">GPCP</text>
<line x1="131" y1="9.6" x2="148.2" y2="9.6" stroke="#d08080" stroke-width="0.9"/>
<text x="150.90" y="12.00" font-size="6.40" fill="#000" stroke="#000" stroke-width="0.30" text-anchor="start" textLength="22.50" lengthAdjust="spacing">TRMM</text>
<line x1="176.3" y1="9.6" x2="193.8" y2="9.6" stroke="#7474b0" stroke-width="0.9"/>
<text x="195.90" y="12.00" font-size="6.40" fill="#000" stroke="#000" stroke-width="0.30" text-anchor="start" textLength="20.40" lengthAdjust="spacing">ERA5</text>
<line x1="218.9" y1="9.6" x2="236.7" y2="9.6" stroke="#7fdde3" stroke-width="1"/>
<text x="238.20" y="12.00" font-size="6.40" fill="#000" stroke="#000" stroke-width="0.30" text-anchor="start" textLength="45.00" lengthAdjust="spacing">&#916;T (x10 <tspan font-size="5.6" dy="-2.3">o</tspan><tspan dy="2.3">C)</tspan></text>
<line x1="286.3" y1="9.6" x2="304.6" y2="9.6" stroke="#d91fd9" stroke-width="1.5" stroke-dasharray="4,3"/>
<text x="306.20" y="11.60" font-size="6.40" fill="#000" stroke="#000" stroke-width="0.30" text-anchor="start" textLength="14.10" lengthAdjust="spacing"><tspan font-size="6.2">&#916;</tspan><tspan font-size="7.4">S</tspan><tspan font-size="5" dy="2.0">e</tspan></text>
<line x1="323.7" y1="9.6" x2="342" y2="9.6" stroke="#d01818" stroke-width="1.5" stroke-dasharray="4,3"/>
<text x="343.50" y="12.00" font-size="6.40" fill="#000" stroke="#000" stroke-width="0.30" text-anchor="start" textLength="65.40" lengthAdjust="spacing">Solar declination</text>
</svg></body></html>
